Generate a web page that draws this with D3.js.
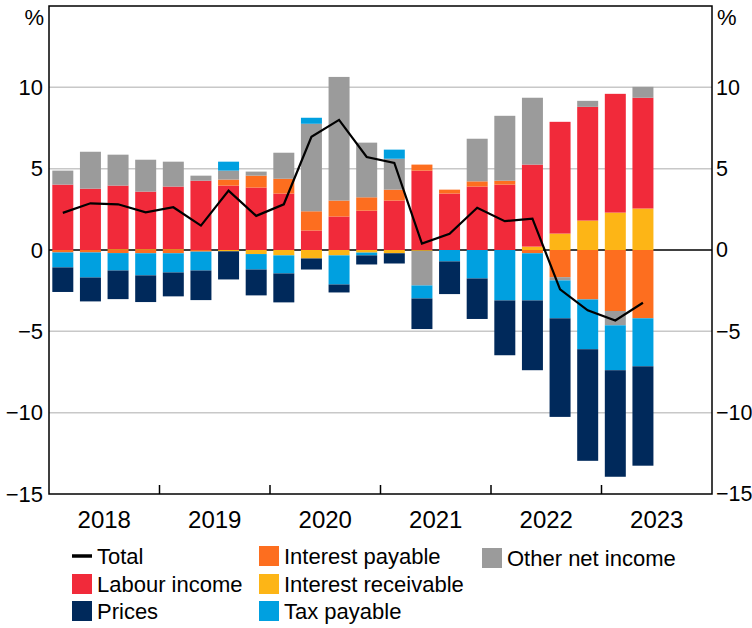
<!DOCTYPE html>
<html>
<head>
<meta charset="utf-8">
<script src="https://cdn.jsdelivr.net/npm/d3@7"></script>
<style>
    body { margin: 0; background: #fff; }
    svg text { font-family: Arial, "Liberation Sans", sans-serif; fill: #000; }
</style>
</head>
<body>
<svg id="vis"></svg>
<script>
// quarterly contributions, ppt
var years = ["2018", "2019", "2020", "2021", "2022", "2023"];
var quarters = ["2018Q1", "2018Q2", "2018Q3", "2018Q4", "2019Q1", "2019Q2", "2019Q3", "2019Q4",
    "2020Q1", "2020Q2", "2020Q3", "2020Q4", "2021Q1", "2021Q2", "2021Q3", "2021Q4",
    "2022Q1", "2022Q2", "2022Q3", "2022Q4", "2023Q1", "2023Q2"];

var interestReceivable = [0, 0, 0.05, 0.05, 0.05, 0, -0.08, -0.25, -0.33, -0.52, -0.33, -0.16, -0.2, -0.05, 0, 0, 0, 0.21, 1.01, 1.81, 2.3, 2.55];
var labourIncome = [4.02, 3.77, 3.91, 3.54, 3.85, 4.26, 3.96, 3.84, 3.47, 1.2, 2.06, 2.42, 3.04, 4.88, 3.47, 3.9, 4.02, 5.04, 6.87, 6.99, 7.3, 6.81];
var interestPayable = [-0.15, -0.15, -0.19, -0.2, -0.2, -0.1, 0.37, 0.73, 0.91, 1.18, 0.98, 0.82, 0.67, 0.37, 0.24, 0.32, 0.24, -0.2, -1.67, -3.04, -3.75, -4.2];
var otherNetIncome = [0.86, 2.27, 1.9, 1.96, 1.53, 0.31, 0.55, 0.25, 1.6, 5.38, 7.6, 3.36, 1.9, -2.13, 0, 2.62, 3.99, 4.11, -0.2, 0.37, -0.88, 0.67];
var taxPayable = [-0.92, -1.54, -1.07, -1.36, -1.18, -1.16, 0.55, -0.95, -1.11, 0.37, -1.79, -0.17, 0.56, -0.8, -0.7, -1.75, -3.1, -2.9, -2.33, -3.06, -2.76, -2.95];
var prices = [-1.51, -1.47, -1.76, -1.64, -1.47, -1.82, -1.73, -1.59, -1.78, -0.68, -0.49, -0.56, -0.63, -1.88, -2.01, -2.49, -3.37, -4.29, -6.06, -6.86, -6.55, -6.11];
var total = [2.28, 2.87, 2.81, 2.32, 2.63, 1.5, 3.65, 2.1, 2.81, 6.96, 8.0, 5.72, 5.35, 0.4, 1.0, 2.6, 1.77, 1.93, -2.42, -3.71, -4.33, -3.24];

var yTicks = [-15, -10, -5, 0, 5, 10];

// stack order (bottom-up from zero)
var seriesKeys = ["Interest receivable", "Labour income", "Interest payable", "Other net income", "Tax payable", "Prices"];
var seriesValues = [interestReceivable, labourIncome, interestPayable, otherNetIncome, taxPayable, prices];
var colors = {
    "Labour income": "#f12a3a",
    "Prices": "#00295b",
    "Interest payable": "#fd6e1f",
    "Interest receivable": "#fdb516",
    "Tax payable": "#00a0e0",
    "Other net income": "#9b9b9b"
};

var width = 752, height = 628;
var margin = {top: 6, right: 40, bottom: 134, left: 49};
var plotW = width - margin.left - margin.right;
var plotH = height - margin.top - margin.bottom;

var svg = d3.select("#vis")
    .attr("width", width)
    .attr("height", height);

// one slot per quarter, including the empty end of 2023
var slots = [];
years.forEach(function(yr) {
    ["Q1", "Q2", "Q3", "Q4"].forEach(function(q) { slots.push(yr + q); });
});

var x = d3.scaleBand()
    .domain(slots)
    .range([margin.left, margin.left + plotW])
    .paddingInner(0.24)
    .paddingOuter(0.12);

var xYear = d3.scaleBand()
    .domain(years)
    .range([margin.left, margin.left + plotW]);

var y = d3.scaleLinear()
    .domain([-15, 15])
    .range([margin.top + plotH, margin.top]);

// table for d3.stack
var table = quarters.map(function(q, i) {
    var row = {quarter: q};
    seriesKeys.forEach(function(k, j) { row[k] = seriesValues[j][i]; });
    return row;
});

var stacked = d3.stack()
    .keys(seriesKeys)
    .offset(d3.stackOffsetDiverging)(table);

// gridlines
svg.append("g")
    .selectAll("line")
    .data(yTicks.filter(function(d) { return d !== 0 && d !== -15; }))
    .enter()
    .append("line")
    .attr("x1", margin.left)
    .attr("x2", margin.left + plotW)
    .attr("y1", d => y(d))
    .attr("y2", d => y(d))
    .attr("stroke", "#c8c8c8")
    .attr("stroke-width", 1.5);

// zero line
svg.append("line")
    .attr("x1", margin.left)
    .attr("x2", margin.left + plotW)
    .attr("y1", y(0))
    .attr("y2", y(0))
    .attr("stroke", "#000")
    .attr("stroke-width", 1.5);

// bars
svg.append("g")
    .selectAll("g")
    .data(stacked)
    .enter()
    .append("g")
    .attr("fill", d => colors[d.key])
    .selectAll("rect")
    .data(d => d)
    .enter()
    .append("rect")
    .attr("x", d => x(d.data.quarter))
    .attr("width", x.bandwidth())
    .attr("y", d => y(Math.max(d[0], d[1])))
    .attr("height", d => Math.abs(y(d[0]) - y(d[1])));

// total line
var line = d3.line()
    .x(function(d, i) { return x(quarters[i]) + x.bandwidth() / 2; })
    .y(d => y(d));

svg.append("path")
    .datum(total)
    .attr("d", line)
    .attr("fill", "none")
    .attr("stroke", "#000")
    .attr("stroke-width", 2.2)
    .attr("stroke-linejoin", "miter");

// frame
svg.append("rect")
    .attr("x", margin.left)
    .attr("y", margin.top)
    .attr("width", plotW)
    .attr("height", plotH)
    .attr("fill", "none")
    .attr("stroke", "#000")
    .attr("stroke-width", 1.5);

// year boundary ticks
svg.append("g")
    .selectAll("line")
    .data(years.slice(1))
    .enter()
    .append("line")
    .attr("x1", d => xYear(d))
    .attr("x2", d => xYear(d))
    .attr("y1", margin.top + plotH)
    .attr("y2", margin.top + plotH - 9)
    .attr("stroke", "#000")
    .attr("stroke-width", 1.5);

// x labels
var xAxis = svg.append("g")
    .attr("transform", "translate(0," + (margin.top + plotH) + ")")
    .call(d3.axisBottom(xYear).tickSize(0).tickPadding(17));
xAxis.select(".domain").remove();
xAxis.selectAll("text")
    .style("font-size", "24px")
    .attr("dy", "0.71em");

// y labels both sides
var yLeft = svg.append("g")
    .attr("transform", "translate(" + margin.left + ",0)")
    .call(d3.axisLeft(y).tickValues(yTicks).tickSize(0).tickPadding(6));
var yRight = svg.append("g")
    .attr("transform", "translate(" + (margin.left + plotW) + ",0)")
    .call(d3.axisRight(y).tickValues(yTicks).tickSize(0).tickPadding(4));
yLeft.select(".domain").remove();
yRight.select(".domain").remove();
yLeft.selectAll("text").style("font-size", "22px");
yRight.selectAll("text").style("font-size", "21.5px");

svg.append("text")
    .attr("x", margin.left - 5)
    .attr("y", 25)
    .attr("text-anchor", "end")
    .style("font-size", "22px")
    .text("%");
svg.append("text")
    .attr("x", margin.left + plotW + 5)
    .attr("y", 25)
    .style("font-size", "22px")
    .text("%");

// legend
var legendItems = [
    {name: "Total", col: 0, row: 0, line: true},
    {name: "Labour income", col: 0, row: 1},
    {name: "Prices", col: 0, row: 2},
    {name: "Interest payable", col: 1, row: 0},
    {name: "Interest receivable", col: 1, row: 1},
    {name: "Tax payable", col: 1, row: 2},
    {name: "Other net income", col: 2, row: 0}
];
var colX = [72, 259, 482];
var rowY = [556, 584, 611];

var legend = svg.append("g")
    .selectAll("g")
    .data(legendItems)
    .enter()
    .append("g")
    .attr("transform", d => "translate(" + colX[d.col] + "," + (rowY[d.row] + (d.col === 2 ? 2 : 0)) + ")");

legend.filter(d => d.line)
    .append("line")
    .attr("x1", 0)
    .attr("x2", 20)
    .attr("y1", 0)
    .attr("y2", 0)
    .attr("stroke", "#000")
    .attr("stroke-width", 3.5);

legend.filter(d => !d.line)
    .append("rect")
    .attr("x", 0)
    .attr("y", -10)
    .attr("width", 20)
    .attr("height", 20)
    .attr("fill", d => colors[d.name]);

legend.append("text")
    .attr("x", 25)
    .attr("y", 8)
    .style("font-size", "22px")
    .text(d => d.name);
</script>
</body>
</html>
